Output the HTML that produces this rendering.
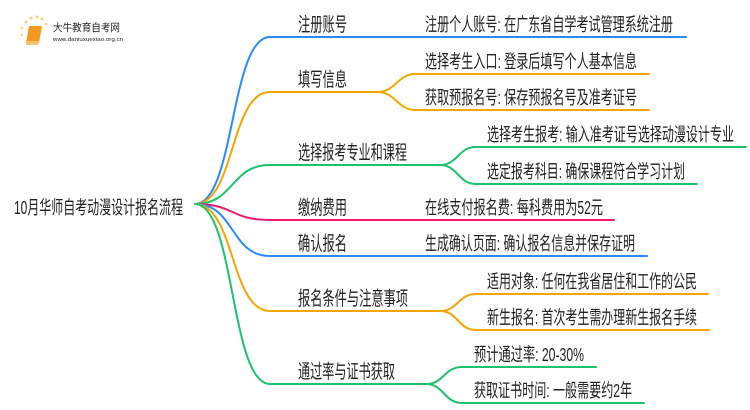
<!DOCTYPE html>
<html><head><meta charset="utf-8"><style>
html,body{margin:0;padding:0;background:#fff;}
svg{display:block;}
text{font-family:"Liberation Sans","Noto Sans CJK SC",sans-serif;fill:#222;}
</style></head><body>
<svg width="750" height="410" viewBox="0 0 750 410" xmlns="http://www.w3.org/2000/svg">
<g fill="none" stroke-width="2" stroke-linecap="round">
<path d="M195,204 C235,204 230,37 270,37 L686,37" stroke="#2a8cff"/>
<path d="M195,204 C235,204 230,92 270,92 L378,92" stroke="#f5a500"/>
<path d="M378,92 C395,92 398,74 415,74 L649,74" stroke="#f5a500"/>
<path d="M378,92 C395,92 398,110 415,110 L649,110" stroke="#f5a500"/>
<path d="M195,204 C235,204 230,165 270,165 L440,165" stroke="#1dc26e"/>
<path d="M440,165 C458,165 458,147 476,147 L746,147" stroke="#1dc26e"/>
<path d="M440,165 C458,165 458,184 476,184 L697,184" stroke="#1dc26e"/>
<path d="M195,204 C235,204 230,220 270,220 L614,220" stroke="#f0196e"/>
<path d="M195,204 C235,204 230,256 270,256 L647,256" stroke="#2a8cff"/>
<path d="M195,204 C235,204 230,311 270,311 L440,311" stroke="#f5a500"/>
<path d="M440,311 C458,311 458,294 476,294 L708,294" stroke="#f5a500"/>
<path d="M440,311 C458,311 458,330 476,330 L709,330" stroke="#f5a500"/>
<path d="M195,204 C235,204 230,384 270,384 L426,384" stroke="#1dc26e"/>
<path d="M426,384 C444,384 444,367 462,367 L596,367" stroke="#1dc26e"/>
<path d="M426,384 C444,384 444,403 462,403 L644,403" stroke="#1dc26e"/>
</g>
<g>
<circle cx="26" cy="22" r="1.5" fill="#fbd07a"/><circle cx="31" cy="18" r="1.5" fill="#fbd07a"/><circle cx="37" cy="17" r="1.5" fill="#fbd07a"/><circle cx="42" cy="19" r="1.5" fill="#fbd07a"/><circle cx="22" cy="28" r="1.3" fill="#fbd07a"/><circle cx="46" cy="24" r="1.3" fill="#fbd07a"/><circle cx="22" cy="35" r="1.2" fill="#fbd07a"/>
<path d="M29,26 L42,26 L39,43 L26,43 Z" fill="#f39a1e"/>
<path d="M27,41 L39,41 L38,45 L26,45 Z" fill="#f7c36a"/>
<text x="53" y="31" font-size="10.5" textLength="67" lengthAdjust="spacingAndGlyphs" fill="#333">大牛教育自考网</text>
<text x="53" y="41" font-size="5" textLength="70" lengthAdjust="spacingAndGlyphs" fill="#666">www.daniuxuexiao.org.cn</text>
</g>
<text x="14" y="214" font-size="18.5" textLength="169" lengthAdjust="spacingAndGlyphs">10月华师自考动漫设计报名流程</text>
<g font-size="19.5">
<text x="298" y="31" textLength="49" lengthAdjust="spacingAndGlyphs">注册账号</text>
<text x="298" y="86" textLength="49" lengthAdjust="spacingAndGlyphs">填写信息</text>
<text x="298" y="159" textLength="109" lengthAdjust="spacingAndGlyphs">选择报考专业和课程</text>
<text x="298" y="214" textLength="49" lengthAdjust="spacingAndGlyphs">缴纳费用</text>
<text x="298" y="250" textLength="49" lengthAdjust="spacingAndGlyphs">确认报名</text>
<text x="298" y="305" textLength="110" lengthAdjust="spacingAndGlyphs">报名条件与注意事项</text>
<text x="298" y="378" textLength="97" lengthAdjust="spacingAndGlyphs">通过率与证书获取</text>
</g>
<g font-size="18.5">
<text x="425" y="31" textLength="248" lengthAdjust="spacingAndGlyphs">注册个人账号: 在广东省自学考试管理系统注册</text>
<text x="425" y="68" textLength="212" lengthAdjust="spacingAndGlyphs">选择考生入口: 登录后填写个人基本信息</text>
<text x="425" y="104" textLength="212" lengthAdjust="spacingAndGlyphs">获取预报名号: 保存预报名号及准考证号</text>
<text x="487" y="141" textLength="247" lengthAdjust="spacingAndGlyphs">选择考生报考: 输入准考证号选择动漫设计专业</text>
<text x="487" y="178" textLength="198" lengthAdjust="spacingAndGlyphs">选定报考科目: 确保课程符合学习计划</text>
<text x="425" y="214" textLength="178" lengthAdjust="spacingAndGlyphs">在线支付报名费: 每科费用为52元</text>
<text x="425" y="250" textLength="210" lengthAdjust="spacingAndGlyphs">生成确认页面: 确认报名信息并保存证明</text>
<text x="487" y="288" textLength="210" lengthAdjust="spacingAndGlyphs">适用对象: 任何在我省居住和工作的公民</text>
<text x="487" y="324" textLength="210" lengthAdjust="spacingAndGlyphs">新生报名: 首次考生需办理新生报名手续</text>
<text x="474" y="361" textLength="110" lengthAdjust="spacingAndGlyphs">预计通过率: 20-30%</text>
<text x="474" y="397" textLength="158" lengthAdjust="spacingAndGlyphs">获取证书时间: 一般需要约2年</text>
</g>
</svg>
</body></html>
